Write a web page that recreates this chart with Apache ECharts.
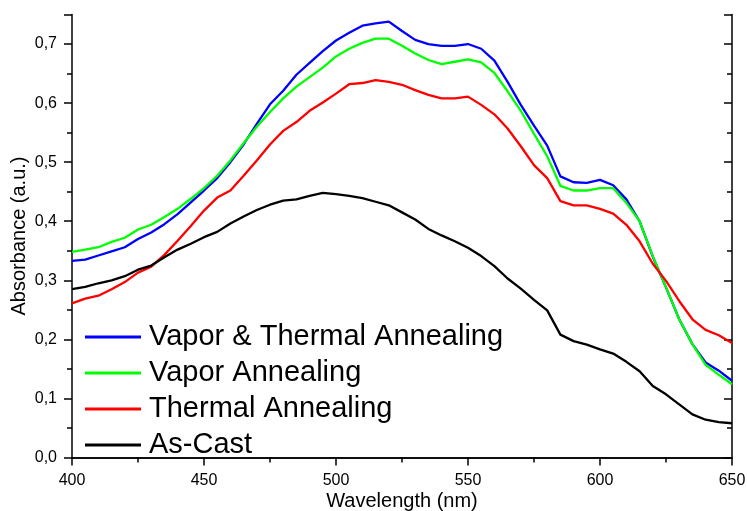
<!DOCTYPE html>
<html>
<head>
<meta charset="utf-8">
<script src="https://cdn.jsdelivr.net/npm/echarts@6/dist/echarts.min.js"></script>
<style>html,body{margin:0;padding:0;background:#fff}#c{width:747px;height:511px}</style>
</head>
<body>
<div id="c"></div>
<script>
var wavelengths = [400,405,410,415,420,425,430,435,440,445,450,455,460,465,470,475,480,485,490,495,500,505,510,515,520,525,530,535,540,545,550,555,560,565,570,575,580,585,590,595,600,605,610,615,620,625,630,635,640,645,650];
var vaporThermal = [0.333,0.335,0.342,0.349,0.356,0.370,0.381,0.395,0.412,0.432,0.452,0.473,0.500,0.530,0.565,0.598,0.621,0.648,0.668,0.688,0.706,0.719,0.731,0.735,0.738,0.722,0.707,0.700,0.697,0.697,0.700,0.692,0.672,0.636,0.597,0.562,0.528,0.476,0.466,0.465,0.470,0.461,0.437,0.400,0.340,0.288,0.234,0.192,0.161,0.147,0.130];
var vapor = [0.348,0.352,0.356,0.365,0.372,0.386,0.394,0.407,0.421,0.438,0.456,0.477,0.503,0.532,0.560,0.585,0.608,0.628,0.644,0.660,0.679,0.692,0.702,0.709,0.709,0.697,0.684,0.673,0.666,0.670,0.674,0.669,0.651,0.620,0.587,0.548,0.510,0.460,0.452,0.452,0.456,0.456,0.431,0.400,0.341,0.288,0.234,0.192,0.157,0.140,0.124];
var thermal = [0.261,0.269,0.274,0.285,0.297,0.313,0.323,0.343,0.367,0.392,0.418,0.440,0.452,0.477,0.503,0.530,0.553,0.568,0.587,0.601,0.616,0.632,0.634,0.639,0.636,0.631,0.622,0.614,0.608,0.608,0.611,0.597,0.581,0.557,0.527,0.495,0.473,0.434,0.427,0.427,0.421,0.413,0.394,0.366,0.328,0.299,0.265,0.234,0.216,0.207,0.194];
var asCast = [0.285,0.289,0.295,0.300,0.307,0.318,0.325,0.339,0.352,0.362,0.373,0.382,0.396,0.408,0.419,0.428,0.435,0.437,0.443,0.448,0.446,0.443,0.439,0.433,0.427,0.415,0.403,0.387,0.376,0.366,0.355,0.341,0.324,0.303,0.286,0.267,0.249,0.208,0.197,0.191,0.183,0.176,0.162,0.146,0.121,0.107,0.090,0.073,0.064,0.060,0.058];
var seriesNames = ['Vapor & Thermal Annealing','Vapor Annealing','Thermal Annealing','As-Cast'];
var seriesColors = ['#0000ff','#00ff00','#ff0000','#000000'];
var seriesValues = [vaporThermal, vapor, thermal, asCast];

var FONT = 'Liberation Sans, Arial, sans-serif';
function pairs(vals){ return wavelengths.map(function(w,i){ return [w, vals[i]]; }); }
var axisLine = {show:true, lineStyle:{color:'#000', width:1.5}};
var chart = echarts.init(document.getElementById('c'));
chart.setOption({
  animation:false,
  backgroundColor:'#fff',
  grid:{left:72, right:15, top:14.5, bottom:53.5, containLabel:false, outerBoundsMode:'none'},
  legend:{
    orient:'vertical', left:80, top:317, itemWidth:56, itemHeight:3, itemGap:6,
    icon:'rect',
    data:seriesNames,
    textStyle:{fontFamily:FONT, fontSize:29, color:'#000', lineHeight:30, padding:[0,0,0,3]}
  },
  xAxis:[{
    type:'value', min:400, max:650, interval:50, position:'bottom',
    name:'Wavelength (nm)', nameLocation:'middle', nameGap:34, nameMoveOverlap:false,
    nameTextStyle:{fontFamily:FONT, fontSize:20, color:'#000'},
    axisLine:axisLine,
    axisTick:{show:true, inside:false, length:8, lineStyle:{color:'#000', width:1.5}},
    minorTick:{show:true, splitNumber:2, length:5, lineStyle:{color:'#000', width:1.5}},
    axisLabel:{fontFamily:FONT, fontSize:16, color:'#000', margin:15},
    splitLine:{show:false}
  },{
    type:'value', min:400, max:650, interval:50, position:'top',
    axisLine:axisLine,
    axisTick:{show:true, inside:true, length:8, lineStyle:{color:'#000', width:1.5}},
    minorTick:{show:true, splitNumber:2, length:5, lineStyle:{color:'#000', width:1.5}},
    axisLabel:{show:false}, splitLine:{show:false}
  }],
  yAxis:[{
    type:'value', min:0, max:0.75, interval:0.1, position:'left',
    name:'Absorbance (a.u.)', nameLocation:'middle', nameGap:43, nameMoveOverlap:false,
    nameTextStyle:{fontFamily:FONT, fontSize:20, color:'#000'},
    axisLine:axisLine,
    axisTick:{show:true, inside:false, length:8, lineStyle:{color:'#000', width:1.5}},
    minorTick:{show:true, splitNumber:2, length:5, lineStyle:{color:'#000', width:1.5}},
    axisLabel:{fontFamily:FONT, fontSize:16, color:'#000', margin:15, showMaxLabel:false,
      formatter:function(v){ return v > 0.72 ? '' : v.toFixed(1).replace('.', ','); }},
    splitLine:{show:false}
  },{
    type:'value', min:0, max:0.75, interval:0.1, position:'right',
    axisLine:axisLine,
    axisTick:{show:true, inside:true, length:8, lineStyle:{color:'#000', width:1.5}},
    minorTick:{show:true, splitNumber:2, length:5, lineStyle:{color:'#000', width:1.5}},
    axisLabel:{show:false}, splitLine:{show:false}
  }],
  series: seriesNames.map(function(n,i){
    return {name:n, type:'line', symbol:'none', data:pairs(seriesValues[i]),
      xAxisIndex:0, yAxisIndex:0,
      lineStyle:{color:seriesColors[i], width:2.3}, itemStyle:{color:seriesColors[i]}};
  })
});
</script>
</body>
</html>
